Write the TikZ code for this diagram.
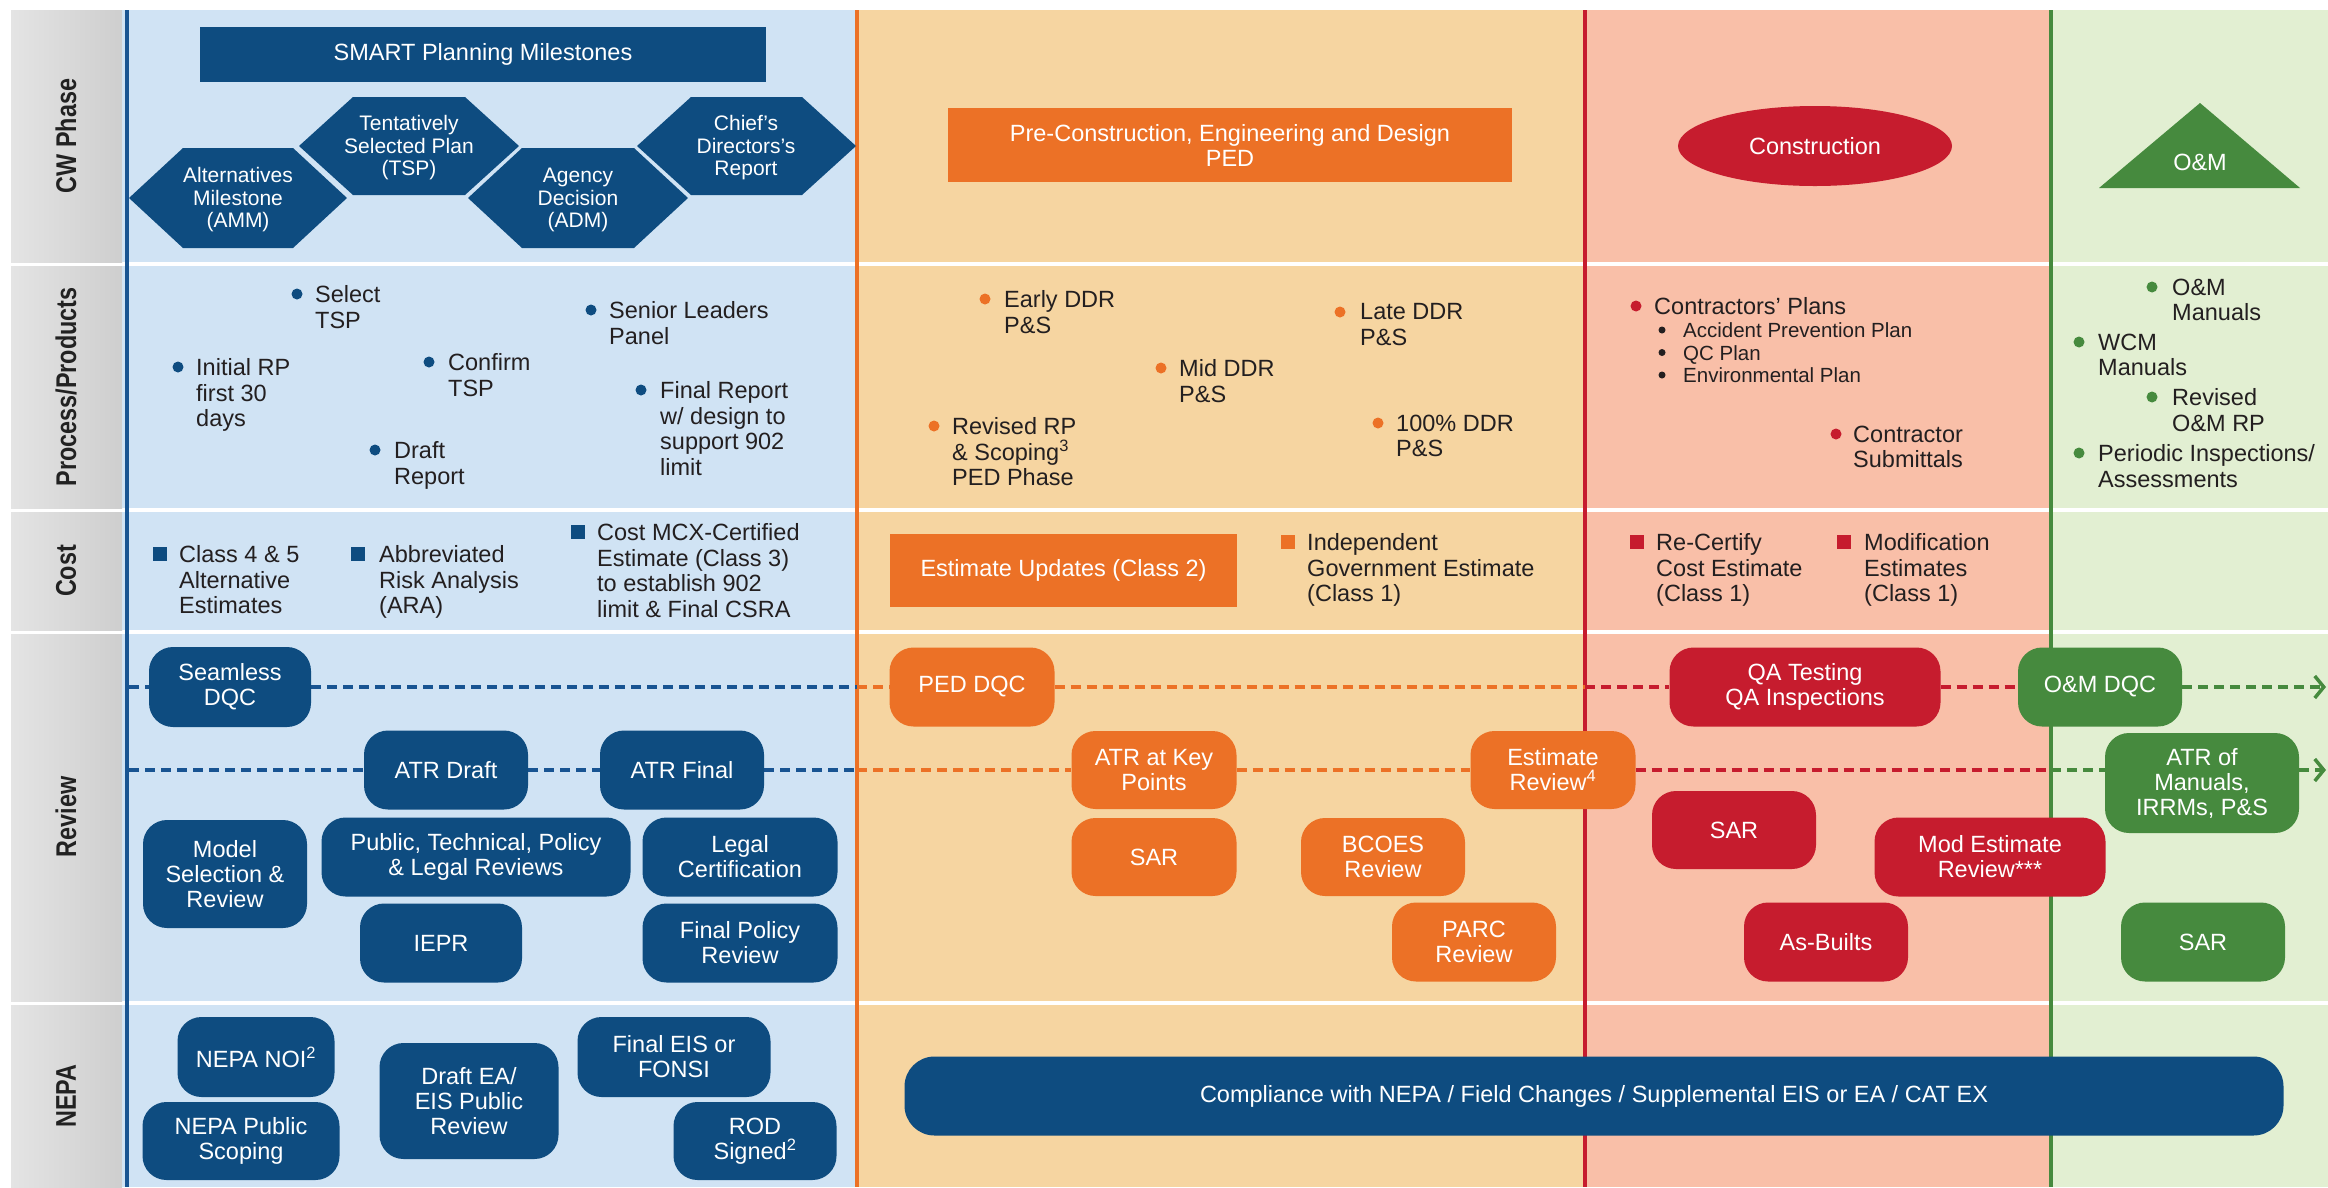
\documentclass[tikz,border=0pt]{standalone}
\usepackage{fontspec}
\setmainfont{Liberation Sans}
\newfontfamily\labelfont{Liberation Sans}[FakeStretch=0.82]
\usetikzlibrary{arrows.meta,shapes.geometric}
\definecolor{dblue}{RGB}{14,76,128}
\definecolor{lblue}{RGB}{208,227,244}
\definecolor{bline}{RGB}{24,84,146}
\definecolor{orng}{RGB}{236,113,38}
\definecolor{lorng}{RGB}{246,213,161}
\definecolor{dred}{RGB}{198,28,46}
\definecolor{lred}{RGB}{249,191,168}
\definecolor{dgreen}{RGB}{70,138,62}
\definecolor{lgreen}{RGB}{226,239,210}
\definecolor{txt}{RGB}{35,31,32}
\definecolor{lbltxt}{RGB}{34,34,34}
\definecolor{grayL}{RGB}{228,228,228}
\definecolor{grayR}{RGB}{206,206,206}
\pgfdeclarelayer{bg}
\pgfsetlayers{bg,main}
\tikzset{
  bodytxt/.style={font=\fontsize{23.5}{25.5}\selectfont, text=txt, inner sep=0pt, align=left, anchor=north west, yshift=8.6pt},
  subtxt/.style={font=\fontsize{20.5}{22.5}\selectfont, text=txt, inner sep=0pt, align=left, anchor=north west, yshift=7.5pt},
  rbox/.style={rounded corners=24pt, inner sep=0pt, text=white, align=center, font=\fontsize{23.5}{25}\selectfont},
  sbox/.style={inner sep=0pt, text=white, align=center, font=\fontsize{23.5}{25}\selectfont},
  hextxt/.style={inner sep=0pt, text=white, align=center, font=\fontsize{21}{22.5}\selectfont},
  lbl/.style={rotate=90, font=\labelfont\bfseries\fontsize{28.5}{30}\selectfont, text=lbltxt, inner sep=0pt},
  dsh/.style={line width=3.5pt, dash pattern=on 10pt off 6pt},
  arrowend/.style={-{Straight Barb[length=9pt,width=22pt]}},
  colline/.style={line width=4pt},
}
\newcommand\bul[6]{\fill[#2] (#3,#4) circle[radius=5.5pt]; \node[bodytxt] (#1) at (#5,#4) {#6};}
\newcommand\sqb[6]{\fill[#2] (#3,#4) ++(-7,-7) rectangle ++(14,14); \node[bodytxt] (#1) at (#5,#4) {#6};}
\newcommand\rb[7]{\node[rbox, fill=#2, minimum width=#5pt, minimum height=#6pt] (#1) at (#3,#4) {#7};}
\begin{document}
\begin{tikzpicture}[x=1pt,y=-1pt]
\useasboundingbox (0,0) rectangle (2328,1187);
\begin{pgfonlayer}{bg}
\fill[white] (0,0) rectangle (2328,1187);
\foreach \ya/\yb in {10/262, 266/508, 512/630, 634/1001, 1005/1187} {
  \shade[left color=grayL, right color=grayR] (11,\ya) rectangle (122,\yb);
  \fill[lblue] (122,\ya) rectangle (857,\yb);
  \fill[lorng] (857,\ya) rectangle (1585,\yb);
  \fill[lred] (1585,\ya) rectangle (2051,\yb);
  \fill[lgreen] (2051,\ya) rectangle (2328,\yb);
}
\draw[colline, bline] (127,10) -- (127,1187);
\draw[colline, orng] (857,10) -- (857,1187);
\draw[colline, dred] (1585,10) -- (1585,1187);
\draw[colline, dgreen] (2051,10) -- (2051,1187);
\end{pgfonlayer}

% row labels
\node[lbl] (lcw) at (66,136) {CW Phase};
\node[lbl] (lproc) at (66,387) {Process/Products};
\node[lbl] (lcost) at (66,571) {Cost};
\node[lbl] (lrev) at (66,817) {Review};
\node[lbl] (lnepa) at (66,1096) {NEPA};

% CW phase row
\node[sbox, fill=dblue, minimum width=566pt, minimum height=55pt] (smart) at (483,54.5) {SMART Planning Milestones};
\fill[dblue] (129,198) -- (183,148) -- (293,148) -- (347,198) -- (293,248) -- (183,248) -- cycle;
\node[hextxt] (amm) at (238,200) {Alternatives\\Milestone\\(AMM)};
\fill[dblue] (299,146) -- (353,97) -- (465,97) -- (519,146) -- (465,195) -- (353,195) -- cycle;
\node[hextxt] (tsp) at (409,148) {Tentatively\\Selected Plan\\(TSP)};
\fill[dblue] (468,198) -- (522,148) -- (634,148) -- (688,198) -- (634,248) -- (522,248) -- cycle;
\node[hextxt] (adm) at (578,200) {Agency\\Decision\\(ADM)};
\fill[dblue] (637,146) -- (691,97) -- (802,97) -- (856,146) -- (802,195) -- (691,195) -- cycle;
\node[hextxt] (chief) at (746,148) {Chief's\\Directors's\\Report};

\node[sbox, fill=orng, minimum width=564pt, minimum height=74pt] (ped) at (1230,145) {Pre-Construction, Engineering and Design\\PED};
\node[ellipse, fill=dred, text=white, inner sep=0pt, minimum width=274pt, minimum height=80pt, font=\fontsize{23.5}{25}\selectfont] (constr) at (1815,146) {Construction};
\fill[dgreen] (2200,103) -- (2300,188) -- (2099,188) -- cycle;
\node[sbox] (omtri) at (2200,162) {O\&M};

% Process / products row
\bul{selecttsp}{dblue}{297}{294}{315}{Select\\TSP}
\bul{senior}{dblue}{591}{310}{609}{Senior Leaders\\Panel}
\bul{initial}{dblue}{178}{367}{196}{Initial RP\\first 30\\days}
\bul{confirm}{dblue}{429}{362}{448}{Confirm\\TSP}
\bul{finalrep}{dblue}{641}{390}{660}{Final Report\\w/ design to\\support 902\\limit}
\bul{draftrep}{dblue}{375}{450}{394}{Draft\\Report}
\bul{early}{orng}{985}{299}{1004}{Early DDR\\P\&S}
\bul{late}{orng}{1340}{312}{1360}{Late DDR\\P\&S}
\bul{mid}{orng}{1161}{368}{1179}{Mid DDR\\P\&S}
\bul{revised}{orng}{934}{426}{952}{Revised RP\\\& Scoping\textsuperscript{3}\\PED Phase}
\bul{fullddr}{orng}{1378}{423}{1396}{100\% DDR\\P\&S}
\bul{cplans}{dred}{1636}{306}{1654}{Contractors' Plans}
\fill[txt] (1662,330) circle[radius=3.5pt];
\fill[txt] (1662,352.5) circle[radius=3.5pt];
\fill[txt] (1662,375) circle[radius=3.5pt];
\node[subtxt] (subplans) at (1683,330) {Accident Prevention Plan\\QC Plan\\Environmental Plan};
\bul{csub}{dred}{1836}{434}{1853}{Contractor\\Submittals}
\bul{omman}{dgreen}{2152}{287}{2172}{O\&M\\Manuals}
\bul{wcm}{dgreen}{2079}{342}{2098}{WCM\\Manuals}
\bul{revom}{dgreen}{2152}{397}{2172}{Revised\\O\&M RP}
\bul{periodic}{dgreen}{2079}{453}{2098}{Periodic Inspections/\\Assessments}

% Cost row
\sqb{c45}{dblue}{160}{554}{179}{Class 4 \& 5\\Alternative\\Estimates}
\sqb{ara}{dblue}{358}{554}{379}{Abbreviated\\Risk Analysis\\(ARA)}
\sqb{mcx}{dblue}{578}{532}{597}{Cost MCX-Certified\\Estimate (Class 3)\\to establish 902\\limit \& Final CSRA}
\node[sbox, fill=orng, minimum width=347pt, minimum height=73pt] (estupd) at (1063.5,570.5) {Estimate Updates (Class 2)};
\sqb{indep}{orng}{1288}{542}{1307}{Independent\\Government Estimate\\(Class 1)}
\sqb{recert}{dred}{1637}{542}{1656}{Re-Certify\\Cost Estimate\\(Class 1)}
\sqb{modest}{dred}{1844}{542}{1864}{Modification\\Estimates\\(Class 1)}

% Review row
\rb{seamless}{dblue}{230}{687}{162}{80}{Seamless\\DQC}
\rb{atrdraft}{dblue}{446}{770}{164}{79}{ATR Draft}
\rb{atrfinal}{dblue}{682}{770}{164}{79}{ATR Final}
\rb{model}{dblue}{225}{874}{164}{108}{Model\\Selection \&\\Review}
\rb{public}{dblue}{476}{857}{309}{79}{Public, Technical, Policy\\\& Legal Reviews}
\rb{legal}{dblue}{740}{857}{195}{79}{Legal\\Certification}
\rb{iepr}{dblue}{441}{943}{162}{79}{IEPR}
\rb{finalpol}{dblue}{740}{943}{195}{79}{Final Policy\\Review}
\rb{peddqc}{orng}{972}{687}{165}{79}{PED DQC}
\rb{atrkey}{orng}{1154}{770}{165}{78}{ATR at Key\\Points}
\rb{estrev}{orng}{1553}{770}{165}{78}{Estimate\\Review\textsuperscript{4}}
\rb{sarO}{orng}{1154}{857}{165}{78}{SAR}
\rb{bcoes}{orng}{1383}{857}{164}{78}{BCOES\\Review}
\rb{parc}{orng}{1474}{942}{164}{79}{PARC\\Review}
\rb{qa}{dred}{1805}{687}{271}{79}{QA Testing\\QA Inspections}
\rb{sarR}{dred}{1734}{830}{164}{78}{SAR}
\rb{modrev}{dred}{1990}{857}{231}{79}{Mod Estimate\\Review***}
\rb{asbuilt}{dred}{1826}{942}{164}{79}{As-Builts}
\rb{omdqc}{dgreen}{2100}{687}{164}{79}{O\&M DQC}
\rb{atrman}{dgreen}{2202}{783}{194}{100}{ATR of\\Manuals,\\IRRMs, P\&S}
\rb{sarG}{dgreen}{2203}{942}{164}{79}{SAR}

% NEPA row
\rb{noi}{dblue}{256}{1057}{157}{80}{NEPA NOI\textsuperscript{2}}
\rb{scoping}{dblue}{241}{1141}{197}{78}{NEPA Public\\Scoping}
\rb{draftea}{dblue}{469}{1101}{179}{116}{Draft EA/\\EIS Public\\Review}
\rb{finaleis}{dblue}{674}{1057}{193}{80}{Final EIS or\\FONSI}
\rb{rod}{dblue}{755}{1141}{163}{78}{ROD\\Signed\textsuperscript{2}}
\node[rbox, rounded corners=30pt, fill=dblue, minimum width=1379pt, minimum height=79pt] (compliance) at (1594,1096) {Compliance with NEPA / Field Changes / Supplemental EIS or EA / CAT EX};

% dashed review lines
\coordinate (b1) at (129,687);
\coordinate (o1) at (857,687);
\coordinate (r1) at (1585,687);
\coordinate (e1) at (2326,687);
\coordinate (b2) at (129,770);
\coordinate (o2) at (857,770);
\coordinate (g2) at (2051,770);
\coordinate (e2) at (2326,770);
\begin{pgfonlayer}{bg}
\draw[dsh, bline] (b1) -- (seamless.west) (seamless.east) -- (o1);
\draw[dsh, orng] (o1) -- (peddqc.west) (peddqc.east) -- (r1);
\draw[dsh, dred] (r1) -- (qa.west) (qa.east) -- (omdqc.west);
\draw[dsh, dgreen, arrowend] (omdqc.east) -- (e1);
\draw[dsh, bline] (b2) -- (atrdraft.west) (atrdraft.east) -- (atrfinal.west) (atrfinal.east) -- (o2);
\draw[dsh, orng] (o2) -- (atrkey.west) (atrkey.east) -- (estrev.west);
\draw[dsh, dred] (estrev.east) -- (g2);
\draw[dsh, dgreen] (g2) -- (g2 -| atrman.west);
\draw[dsh, dgreen, arrowend] (e2 -| atrman.east) -- (e2);
\end{pgfonlayer}
\end{tikzpicture}
\end{document}
